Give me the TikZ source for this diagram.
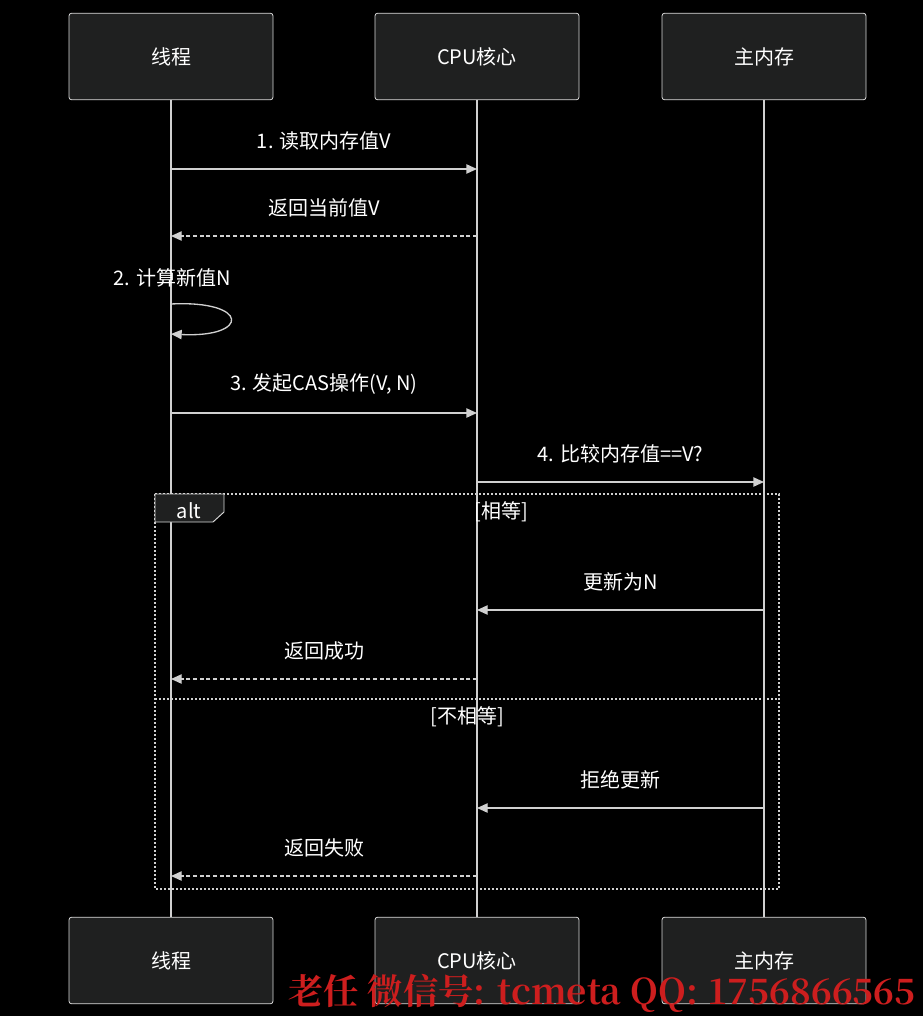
\documentclass[tikz,border=0pt]{standalone}
\usepackage{fontspec}
\setmainfont{Noto Sans CJK SC}
\newfontfamily\wm{Noto Serif CJK SC}
\usetikzlibrary{arrows.meta}
\definecolor{ln}{HTML}{D0D0D0}
\definecolor{bx}{HTML}{1F2020}
\tikzset{x=0.75pt,y=-0.75pt,
 actor/.style={draw=ln!80,fill=bx,rounded corners=2pt,minimum width=153pt,minimum height=65pt,text=white,font=\fontsize{15}{17}\selectfont,line width=0.6pt},
 life/.style={draw=ln,line width=0.9pt},
 msg/.style={draw=ln,line width=1pt,-{Triangle[length=8pt,width=7pt]}},
 rmsg/.style={msg,dash pattern=on 3pt off 2pt},
 lab/.style={text=white,font=\fontsize{15}{17}\selectfont},
 frame/.style={draw=ln,line width=1pt,dash pattern=on 1.5pt off 1.5pt}}
\begin{document}
\begin{tikzpicture}
\fill[black] (0,0) rectangle (923,1016);
\path[use as bounding box] (0,0) rectangle (923,1016);
\foreach \n/\x/\t in {a/171/线程,b/477/CPU核心,c/764/主内存}{
 \draw[life] (\x,100) -- (\x,917);
 \node[actor] (\n t) at (\x,56.5) {\t};
 \node[actor] (\n b) at (\x,960.5) {\t};
}
\coordinate (a1) at (171,169); \coordinate (b1) at (477,169);
\draw[msg] (a1) -- (b1) node[lab,midway,above=10pt] {1. 读取内存值V};
\coordinate (a2) at (171,236); \coordinate (b2) at (477,236);
\draw[rmsg] (b2) -- (a2) node[lab,midway,above=10pt] {返回当前值V};
\coordinate (s1) at (171,304); \coordinate (s2) at (171,334);
\draw[msg] (s1) .. controls (250,300) and (250,338) .. (s2);
\node[lab] (l2) at (172,278) {2. 计算新值N};
\coordinate (a3) at (171,413); \coordinate (b3) at (477,413);
\draw[msg] (a3) -- (b3) node[lab,midway,above=10pt] {3. 发起CAS操作(V, N)};
\coordinate (b4) at (477,482); \coordinate (c4) at (764,482);
\draw[msg] (b4) -- (c4) node[lab,midway,above=10pt] {4. 比较内存值==V?};
\draw[frame] (155,494) rectangle (779,889);
\draw[frame] (155,699) -- (779,699);
\draw[draw=ln!80,fill=bx,line width=0.7pt] (155,494) -- (224,494) -- (224,512) -- (213,522) -- (155,522) -- cycle;
\node[lab] (alt) at (189,511) {alt};
\node[lab] (g1) at (501,512) {[相等]};
\coordinate (c5) at (764,610); \coordinate (b5) at (477,610);
\draw[msg] (c5) -- (b5) node[lab,midway,above=10pt] {更新为N};
\coordinate (b6) at (477,679); \coordinate (a6) at (171,679);
\draw[rmsg] (b6) -- (a6) node[lab,midway,above=10pt] {返回成功};
\node[lab] (g2) at (467,717) {[不相等]};
\coordinate (c7) at (764,808); \coordinate (b7) at (477,808);
\draw[msg] (c7) -- (b7) node[lab,midway,above=10pt] {拒绝更新};
\coordinate (b8) at (477,876); \coordinate (a8) at (171,876);
\draw[rmsg] (b8) -- (a8) node[lab,midway,above=10pt] {返回失败};
\node[text={rgb,255:red,205;green,30;blue,30},font=\wm\bfseries\fontsize{26.5}{28}\selectfont,anchor=east] (wm) at (920,993) {老任 微信号: tcmeta QQ: 1756866565};
\end{tikzpicture}
\end{document}
